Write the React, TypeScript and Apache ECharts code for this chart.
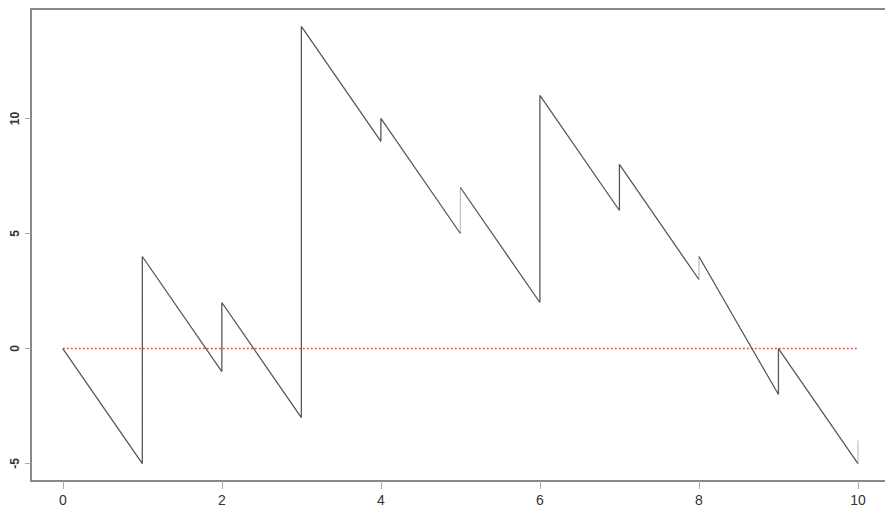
import React, { useEffect, useRef } from "react";
import * as echarts from "echarts";

// Jump times of the process
const jumpTimes = [1, 2, 3, 4, 5, 6, 7, 8, 9, 10];
// Value just before each jump
const beforeJump = [-5, -1, -3, 9, 5, 2, 6, 3, -2, -5];
// Value right after each jump
const afterJump = [4, 2, 14, 10, 7, 11, 8, 4, 0, -4];
const startValue = 0;
// Jumps drawn in a lighter grey
const lightJumps = [5, 8, 10];
const xTicks = [0, 2, 4, 6, 8, 10];
const yTicks = [-5, 0, 5, 10];

export default function App() {
  const ref = useRef<HTMLDivElement>(null);
  useEffect(() => {
    if (!ref.current) return;
    const chart = echarts.init(ref.current, null, { renderer: "svg" });

    const segments: number[][][] = [];
    const lightSegs: number[][][] = [];
    let cur: number[][] = [[0, startValue]];
    jumpTimes.forEach((t, i) => {
      cur.push([t, beforeJump[i]]);
      if (lightJumps.includes(t)) {
        segments.push(cur);
        lightSegs.push([[t, beforeJump[i]], [t, afterJump[i]]]);
        cur = [[t, afterJump[i]]];
      } else {
        cur.push([t, afterJump[i]]);
      }
    });
    if (cur.length > 1) segments.push(cur);

    const series: any[] = [];
    series.push({
      type: "line",
      data: [[0, 0], [10, 0]],
      symbol: "none",
      lineStyle: { color: "#e8504a", width: 1.6, type: [2, 2] },
      z: 1,
    });
    segments.forEach((s) =>
      series.push({
        type: "line",
        data: s,
        symbol: "none",
        lineStyle: { color: "#585858", width: 1.3 },
        z: 3,
      })
    );
    lightSegs.forEach((s) =>
      series.push({
        type: "line",
        data: s,
        symbol: "none",
        lineStyle: { color: "#c4c4c4", width: 1.3 },
        z: 2,
      })
    );

    const boxLine = { color: "#888", width: 2 };
    const font = "Liberation Sans, Arial, sans-serif";

    chart.setOption({
      animation: false,
      backgroundColor: "#fff",
      grid: { left: 31, top: 9, right: 0, bottom: 35, show: false },
      xAxis: [
        {
          type: "value",
          position: "bottom",
          min: -0.4,
          max: 10.34,
          splitLine: { show: false },
          axisLine: { show: true, onZero: false, lineStyle: boxLine },
          axisTick: {
            show: true,
            length: 8,
            customValues: xTicks,
            lineStyle: { color: "#aaa", width: 1 },
          },
          axisLabel: {
            customValues: xTicks,
            margin: 12,
            color: "#333",
            fontSize: 14,
            fontFamily: font,
          },
        },
        {
          type: "value",
          position: "top",
          min: -0.4,
          max: 10.34,
          splitLine: { show: false },
          axisLine: { show: true, onZero: false, lineStyle: boxLine },
          axisTick: { show: false },
          axisLabel: { show: false },
        },
      ],
      yAxis: {
        type: "value",
        min: -5.76,
        max: 14.76,
        splitLine: { show: false },
        axisLine: { show: true, onZero: false, lineStyle: boxLine },
        axisTick: {
          show: true,
          length: 6,
          customValues: yTicks,
          lineStyle: { color: "#aaa", width: 1 },
        },
        axisLabel: {
          customValues: yTicks,
          rotate: 90,
          margin: 10,
          color: "#333",
          fontSize: 12,
          fontWeight: "bold",
          fontFamily: font,
        },
      },
      series,
    });
    return () => chart.dispose();
  }, []);
  return (
    <div
      ref={ref}
      style={{ position: "fixed", left: 0, top: 0, width: 885, height: 516, background: "#fff" }}
    />
  );
}
